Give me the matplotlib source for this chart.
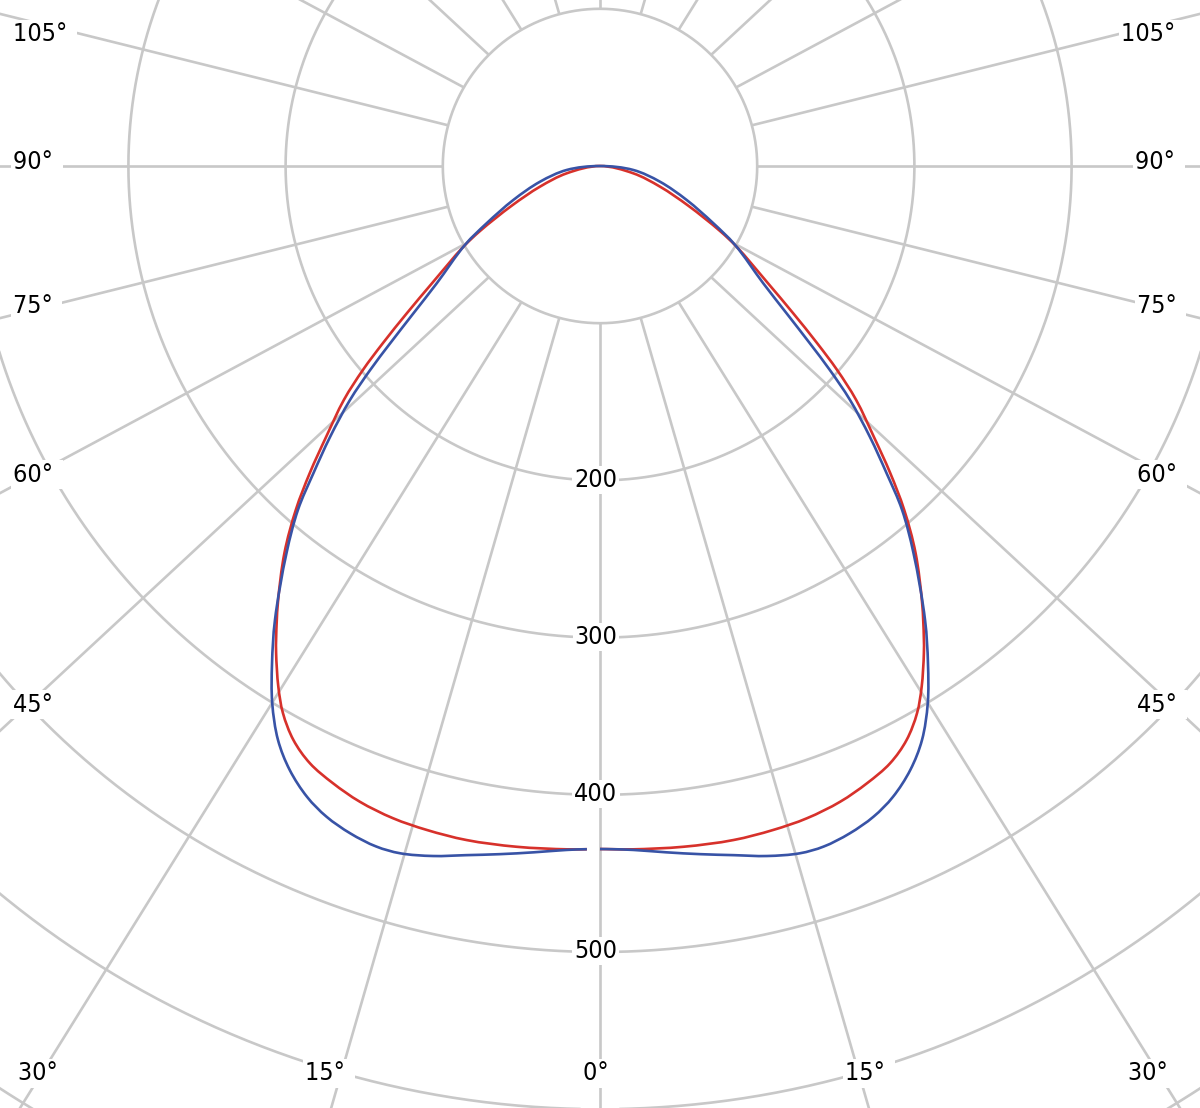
import numpy as np
import matplotlib
matplotlib.use("Agg")
import matplotlib.pyplot as plt
from matplotlib import transforms
from matplotlib.path import Path
from matplotlib.patches import PathPatch

# ---------------- data ----------------
# gamma angle (deg from nadir) and luminous intensity (cd)
gamma_blue = [0.0, 1.1, 2.8, 5.5, 8.3, 11.0, 13.6, 16.2, 18.2, 20.5, 22.8, 24.9,
              27.2, 29.3, 31.4, 33.4, 35.6, 39.0, 41.3, 43.0, 44.9, 46.9, 48.4,
              49.8, 51.7, 54.3, 59.7, 63.2, 68.6, 75.3, 83.2, 90.0]
int_blue = [434.5, 434.7, 435.6, 438.6, 442.4, 446.6, 451.6, 455.3, 455.7, 453.3,
            449.0, 442.5, 431.9, 418.6, 400.2, 379.0, 355.2, 316.9, 291.1, 267.4,
            243.2, 217.8, 195.6, 174.8, 151.3, 127.9, 99.5, 80.8, 59.2, 39.5,
            21.3, 0.0]

gamma_red = [0.0, 1.1, 2.8, 7.0, 11.2, 14.6, 17.6, 20.7, 23.4, 25.9, 28.1, 30.1,
             31.7, 33.6, 34.5, 36.4, 39.2, 41.5, 43.4, 45.3, 47.6, 49.3, 50.8,
             52.7, 55.1, 59.4, 61.6, 65.8, 71.0, 77.6, 90.0]
int_red = [434.5, 434.7, 435.2, 436.3, 437.1, 436.5, 435.3, 432.3, 427.8, 422.4,
           414.0, 402.2, 389.4, 372.3, 363.7, 345.3, 317.6, 292.0, 268.6, 245.2,
           220.6, 198.9, 178.1, 154.3, 130.2, 101.0, 86.5, 61.5, 40.4, 21.7, 0.0]

circle_values = [100, 200, 300, 400, 500, 600, 700]
radial_label_values = [200, 300, 400, 500]
radial_labels = ["200", "300", "400", "500"]
grid_angles = [0, 15, 30, 45, 60, 75, 90, 105, 120, 135, 150, 165, 180]

# angle labels: text, left x (px), vertical centre (px)
angle_labels = [
    ("105°", 13, 32), ("90°", 13, 160), ("75°", 13, 303.5), ("60°", 13, 472.5),
    ("45°", 13, 702.5), ("30°", 18, 1071), ("15°", 305, 1071), ("0°", 583, 1071),
    ("15°", 845, 1071), ("30°", 1128, 1071),
    ("105°", 1121, 32), ("90°", 1135, 160), ("75°", 1137, 303.5),
    ("60°", 1137, 472.5), ("45°", 1137, 702.5),
]

# ---------------- layout ----------------
W, H = 1200, 1108
CX, CY = 600, 166          # pole position in pixels (from top-left)
S = 1.572                  # pixels per cd
R = 730                    # rmax in cd
K = 0.928                  # apparent squeeze of the radial grid lines

GRID = "#c8c8c8"
RED = "#d7312b"
BLUE = "#3853a6"
FS = 18
FONT = dict(family="DejaVu Sans", fontstretch="condensed")

fig = plt.figure(figsize=(W / 100, H / 100), dpi=100)
fig.patch.set_facecolor("white")
ax = fig.add_axes([(CX - R * S) / W, (H - CY - R * S) / H, 2 * R * S / W, 2 * R * S / H],
                  projection="polar")
ax.set_theta_zero_location("S")
ax.set_theta_direction(-1)
ax.set_rlim(0, R)
ax.set_axis_off()

# concentric circles
th = np.linspace(0, 2 * np.pi, 1441)
for rv in circle_values:
    ax.plot(th, np.full_like(th, rv), color=GRID, lw=1.9, zorder=1, solid_capstyle="butt")

# radial lines (start on the 100 circle)
for a in grid_angles:
    signs = (1,) if a in (0, 180) else (1, -1)
    for sg in signs:
        t = np.radians(a) * sg
        p1 = np.array([100 * np.sin(t), 100 * np.cos(t)])
        d = np.array([np.sin(t), K * np.cos(t)])
        d /= np.hypot(*d)
        p2 = p1 + 1400 * d
        ax.plot([t, np.arctan2(p2[0], p2[1])], [100, np.hypot(*p2)],
                color=GRID, lw=1.9, zorder=1, solid_capstyle="butt")


def smooth_polar_path(gdeg, vals, sign):
    """Centripetal Catmull-Rom through the measured points, returned as a
    cubic-Bezier Path expressed in (theta, r) polar data coordinates."""
    g = np.radians(np.asarray(gdeg, float)) * sign
    v = np.asarray(vals, float)
    P = np.column_stack([v * np.sin(g), v * np.cos(g)])
    if abs(g[0]) < 1e-9:
        first = np.array([-P[1][0], P[1][1]])
    else:
        first = np.array([-P[0][0], P[0][1]])
    last = np.array([-P[-2][0], P[-2][1]])
    E = np.vstack([first, P, last])
    verts = [P[0]]
    codes = [Path.MOVETO]
    for i in range(len(P) - 1):
        p0, p1, p2, p3 = E[i], E[i + 1], E[i + 2], E[i + 3]
        d1 = max(np.hypot(*(p1 - p0)), 1e-6) ** 0.5
        d2 = max(np.hypot(*(p2 - p1)), 1e-6) ** 0.5
        d3 = max(np.hypot(*(p3 - p2)), 1e-6) ** 0.5
        b1 = (d1**2 * p2 - d2**2 * p0 + (2 * d1**2 + 3 * d1 * d2 + d2**2) * p1) / (3 * d1 * (d1 + d2))
        b2 = (d3**2 * p1 - d2**2 * p3 + (2 * d3**2 + 3 * d3 * d2 + d2**2) * p2) / (3 * d3 * (d3 + d2))
        verts += [b1, b2, p2]
        codes += [Path.CURVE4] * 3
    verts = np.array(verts)
    pol = np.column_stack([np.arctan2(verts[:, 0], verts[:, 1]), np.hypot(verts[:, 0], verts[:, 1])])
    return Path(pol, codes)


# curves (left half starts slightly off-axis as in the reference)
for g, v, c in ((gamma_red, int_red, RED), (gamma_blue, int_blue, BLUE)):
    ax.add_patch(PathPatch(smooth_polar_path(g, v, -1), fill=False, ec=c, lw=1.9,
                           zorder=3, capstyle="butt"))
    ax.add_patch(PathPatch(smooth_polar_path(g[1:], v[1:], 1), fill=False, ec=c, lw=1.9,
                           zorder=3, capstyle="butt"))

# radial value labels
em = FS * 100 / 72
base_off = 0.3645 * em
tr = transforms.offset_copy(ax.transData, fig=fig, x=-4, y=3 - base_off, units="dots")
for rv, lab in zip(radial_label_values, radial_labels):
    ax.text(0, rv, lab, transform=tr, ha="center", va="baseline", fontsize=FS,
            color="black", zorder=6, clip_on=False,
            bbox=dict(boxstyle="square,pad=0.08", fc="white", ec="none"), **FONT)

# angle labels
for lab, x, cy in angle_labels:
    fig.text(x / W, 1 - (cy + base_off) / H, lab + " ", ha="left", va="baseline",
             fontsize=FS, color="black", zorder=6,
             bbox=dict(boxstyle="square,pad=0.1", fc="white", ec="none"), **FONT)

fig.savefig("out.png", dpi=100, facecolor="white")
